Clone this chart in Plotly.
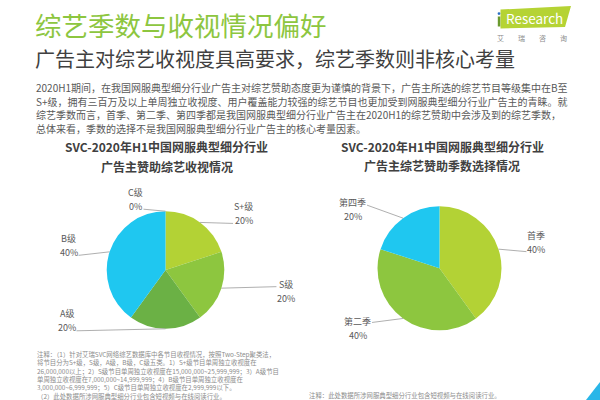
import math
import plotly.graph_objects as go

W, H = 600, 400

# ---------------- data ----------------
left_labels = ["S+级", "S级", "A级", "B级", "C级"]
left_values = [20, 20, 20, 40, 0]
right_labels = ["首季", "第二季", "第四季"]
right_values = [40, 40, 20]

title_text = "综艺季数与收视情况偏好"
subtitle_text = "广告主对综艺收视度具高要求，综艺季数则非核心考量"
body_lines = [
    "2020H1期间，在我国网服典型细分行业广告主对综艺赞助态度更为谨慎的背景下，广告主所选的综艺节目等级集中在B至",
    "S+级，拥有三百万及以上单周独立收视度、用户覆盖能力较强的综艺节目也更加受到网服典型细分行业广告主的青睐。就",
    "综艺季数而言，首季、第二季、第四季都是我国网服典型细分行业广告主在2020H1的综艺赞助中会涉及到的综艺季数，",
    "总体来看，季数的选择不是我国网服典型细分行业广告主的核心考量因素。",
]
left_chart_title = ["SVC-2020年H1中国网服典型细分行业", "广告主赞助综艺收视情况"]
right_chart_title = ["SVC-2020年H1中国网服典型细分行业", "广告主综艺赞助季数选择情况"]
left_notes = [
    "注释：（1）针对艾瑞SVC网络综艺数据库中各节目收视情况，按照Two-Step聚类法，",
    "将节目分为S+级，S级，A级，B级，C级五类。1）S+级节目单周独立收视度在",
    "26,000,000以上；2）S级节目单周独立收视度在15,000,000~25,999,999；3）A级节目",
    "单周独立收视度在7,000,000~14,999,999；4）B级节目单周独立收视度在",
    "3,000,000~6,999,999；5）C级节目单周独立收视度在2,999,999以下。",
    "（2）此处数据所涉网服典型细分行业包含短视频与在线阅读行业。",
    "来源：Sponsorship Value Creator赞助效果评估数据库。",
]
right_notes = [
    "注释：此处数据所涉网服典型细分行业包含短视频与在线阅读行业。",
    "来源：Sponsorship Value Creator赞助效果评估数据库。",
]

# ---------------- style ----------------
FONT = "Noto Sans CJK SC, Noto Sans, sans-serif"
LEFT_COLORS = ["#b3d235", "#8dc63f", "#6bb145", "#1fc7f0", "#d9d9d9"]
RIGHT_COLORS = ["#b3d235", "#8dc63f", "#1fc7f0"]
LEFT_PIE = dict(cx=165.5, cy=270.0, r=58.8)
RIGHT_PIE = dict(cx=439.5, cy=268.3, r=62.0)
LEFT_LINE_OFF = [(33, 1), (55, -1.5), (-89, 2), (-31, 3.5), (-22, -2)]
LEFT_TEXT_DY = [-9.6, 4.5, -10, -9.8, -10]
RIGHT_LINE_OFF = [(28, 2.5), (-31, 4), (-36, -13)]
RIGHT_TEXT_DY = [-9.2, 6.3, 4.8]
LABEL_SIZE = 9
LABEL_COLOR = "#595959"
LINE_COLOR = "#a6a6a6"
NOTE_SIZE = 6.4
BODY_SIZE = 10


def px(x):
    return x / W


def py(y):
    return 1 - y / H


annotations = []
shapes = []


def ann(x, y, text, size, color, xanchor="left", yanchor="middle", bold=False, align="left"):
    if bold:
        text = "<b>" + text + "</b>"
    annotations.append(dict(
        x=px(x), y=py(y), xref="paper", yref="paper", text=text,
        showarrow=False, xanchor=xanchor, yanchor=yanchor, align=align,
        font=dict(family=FONT, size=size, color=color), borderpad=0,
    ))


def text_w(s, size):
    w = 0
    for c in s:
        if ord(c) > 0x2E80:
            w += size
        elif c == "%":
            w += size * 0.85
        else:
            w += size * 0.56
    return w


fig = go.Figure()


def add_pie(labels, values, colors, geo, offs, tdys):
    cx, cy, r = geo["cx"], geo["cy"], geo["r"]
    fig.add_trace(go.Pie(
        labels=labels, values=values, sort=False, direction="clockwise",
        rotation=0, textinfo="none", hoverinfo="label+percent",
        marker=dict(colors=colors, line=dict(width=0)),
        domain=dict(x=[px(cx - r), px(cx + r)], y=[py(cy + r), py(cy - r)]),
        showlegend=False,
    ))
    total = sum(values)
    cum = 0
    for lab, v, off, tdy in zip(labels, values, offs, tdys):
        th = math.radians((cum + v / 2) / total * 360)
        cum += v
        ex, ey = cx + r * math.sin(th), cy - r * math.cos(th)
        lx, ly = ex + off[0], ey + off[1]
        shapes.append(dict(type="line", xref="paper", yref="paper",
                           x0=px(ex), y0=py(ey), x1=px(lx), y1=py(ly),
                           line=dict(color=LINE_COLOR, width=0.9)))
        pct = f"{round(v / total * 100)}%"
        bw = max(text_w(lab, LABEL_SIZE), text_w(pct, LABEL_SIZE))
        sign = 1 if off[0] > 0 else -1
        bx = lx + sign * (bw / 2 + 1)
        by = ly + tdy
        ann(bx, by - 7, lab, LABEL_SIZE, LABEL_COLOR, xanchor="center")
        ann(bx, by + 7, pct, LABEL_SIZE, LABEL_COLOR, xanchor="center")


add_pie(left_labels, left_values, LEFT_COLORS, LEFT_PIE, LEFT_LINE_OFF, LEFT_TEXT_DY)
add_pie(right_labels, right_values, RIGHT_COLORS, RIGHT_PIE, RIGHT_LINE_OFF, RIGHT_TEXT_DY)

# headings
ann(34, 24.7, title_text, 26.5, "#8dc63f")
ann(34, 59, subtitle_text, 20, "#404040")
for i, line in enumerate(body_lines):
    ann(35, 87.5 + 13.7 * i, line, BODY_SIZE, "#595959")

# chart titles
for i, line in enumerate(left_chart_title):
    ann(166.7, 146 + 20 * i, line, 12, "#404040", xanchor="center", bold=True)
for i, line in enumerate(right_chart_title):
    ann(442.3, 146 + 19.5 * i, line, 12, "#404040", xanchor="center", bold=True)

# notes (multi-line blocks, top anchored)
ann(35.5, 348.8, "<br>".join(left_notes), NOTE_SIZE, "#8c8c8c", yanchor="top")
ann(308.3, 390.3, "<br>".join(right_notes), NOTE_SIZE, "#8c8c8c", yanchor="top")

# logo
logo_pts = [(500.5, 9.5), (571, 6), (565, 27), (500.5, 28.5)]
path = "M " + " L ".join(f"{px(x)},{py(y)}" for x, y in logo_pts) + " Z"
shapes.append(dict(type="path", xref="paper", yref="paper", path=path,
                   fillcolor="#b5d334", line=dict(width=0)))
shapes.append(dict(type="rect", xref="paper", yref="paper",
                   x0=px(497.8), x1=px(500.3), y0=py(26.5), y1=py(16.5),
                   fillcolor="#6a9a2e", line=dict(width=0)))
shapes.append(dict(type="circle", xref="paper", yref="paper",
                   x0=px(497.6), x1=px(500.4), y0=py(15), y1=py(12.2),
                   fillcolor="#2a6fc4", line=dict(width=0)))
ann(534, 18, "Research", 13.5, "#ffffff", xanchor="center")
ann(532, 38.3, "艾　　瑞　　咨　　询", 7, "#8c8c8c", xanchor="center")

# corner decoration
corner = [(586, 400), (600, 382), (600, 400)]
path = "M " + " L ".join(f"{px(x)},{py(y)}" for x, y in corner) + " Z"
shapes.append(dict(type="path", xref="paper", yref="paper", path=path,
                   fillcolor="#29b6e8", line=dict(width=0)))

fig.update_layout(
    width=W, height=H, margin=dict(l=0, r=0, t=0, b=0),
    paper_bgcolor="white", plot_bgcolor="white",
    annotations=annotations, shapes=shapes,
    font=dict(family=FONT),
)

fig.write_html("out.html")
